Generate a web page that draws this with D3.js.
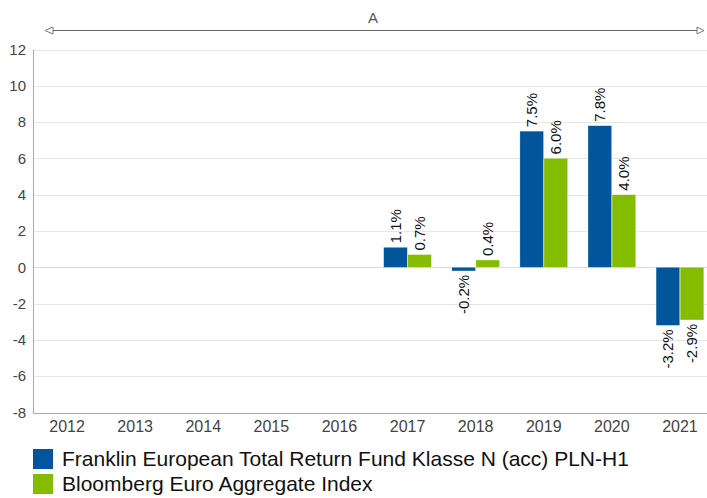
<!DOCTYPE html>
<html>
<head>
<meta charset="utf-8">
<script src="https://cdn.jsdelivr.net/npm/d3@7"></script>
<style>
  body { margin: 0; background: #fff; }
  svg { font-family: "Liberation Sans", Arial, sans-serif; }
</style>
</head>
<body>
<div id="chart"></div>
<script>
const years = ["2012", "2013", "2014", "2015", "2016", "2017", "2018", "2019", "2020", "2021"];
const fundValues = [null, null, null, null, null, 1.1, -0.2, 7.5, 7.8, -3.2];
const indexValues = [null, null, null, null, null, 0.7, 0.4, 6.0, 4.0, -2.9];
const seriesNames = ["Franklin European Total Return Fund Klasse N (acc) PLN-H1", "Bloomberg Euro Aggregate Index"];
const seriesColors = ["#00559b", "#84bd00"];
const yTicks = [-8, -6, -4, -2, 0, 2, 4, 6, 8, 10, 12];

const width = 707, height = 498;
const plotLeft = 33, plotRight = 714, plotTop = 49.5, plotBottom = 412.5;

const svg = d3.select("#chart").append("svg")
    .attr("width", width)
    .attr("height", height);

const x = d3.scaleBand()
    .domain(years)
    .range([plotLeft, plotRight])
    .paddingInner(0.3)
    .paddingOuter(0.15);

const xInner = d3.scaleBand()
    .domain([0, 1])
    .range([0, x.bandwidth()])
    .paddingInner(0.02);

const y = d3.scaleLinear()
    .domain([-8, 12])
    .range([plotBottom, plotTop]);

// gridlines
svg.append("g")
    .selectAll("line")
    .data(yTicks)
    .enter().append("line")
    .attr("x1", plotLeft)
    .attr("x2", width)
    .attr("y1", d => Math.round(y(d)) + 0.5)
    .attr("y2", d => Math.round(y(d)) + 0.5)
    .attr("stroke", d => d === 0 ? "#dcdcdc" : "#e6e6e6");

// y labels
svg.append("g")
    .selectAll("text")
    .data(yTicks)
    .enter().append("text")
    .attr("x", 26)
    .attr("y", d => y(d))
    .attr("dy", "0.35em")
    .attr("text-anchor", "end")
    .attr("font-size", 15)
    .attr("fill", "#444")
    .text(d => d);

// x labels
svg.append("g")
    .selectAll("text")
    .data(years)
    .enter().append("text")
    .attr("x", d => x(d) + x.bandwidth() / 2)
    .attr("y", 432)
    .attr("text-anchor", "middle")
    .attr("font-size", 16)
    .attr("fill", "#444")
    .text(d => d);

// axis lines
svg.append("line")
    .attr("x1", plotLeft + 0.5).attr("x2", plotLeft + 0.5)
    .attr("y1", plotTop).attr("y2", plotBottom + 0.5)
    .attr("stroke", "#aaa");
svg.append("line")
    .attr("x1", plotLeft).attr("x2", width)
    .attr("y1", Math.round(plotBottom) + 0.5).attr("y2", Math.round(plotBottom) + 0.5)
    .attr("stroke", "#aaa");

// bars
const allSeries = [fundValues, indexValues];
allSeries.forEach((values, si) => {
    const rows = years.map((yr, i) => ({ year: yr, value: values[i] })).filter(d => d.value !== null);
    const g = svg.append("g");
    g.selectAll("rect")
        .data(rows)
        .enter().append("rect")
        .attr("x", d => x(d.year) + xInner(si))
        .attr("width", xInner.bandwidth())
        .attr("y", d => y(Math.max(0, d.value)))
        .attr("height", d => Math.abs(y(d.value) - y(0)))
        .attr("fill", seriesColors[si])
        .attr("stroke", "#fff")
        .attr("stroke-opacity", 0.4)
        .attr("stroke-width", 0.6);

    g.selectAll("text")
        .data(rows)
        .enter().append("text")
        .attr("transform", d => {
            const cx = x(d.year) + xInner(si) + xInner.bandwidth() / 2;
            const cy = d.value >= 0 ? y(d.value) - 4 : y(d.value) + 4;
            return `translate(${cx},${cy}) rotate(-90)`;
        })
        .attr("dy", "0.35em")
        .attr("text-anchor", d => d.value >= 0 ? "start" : "end")
        .attr("font-size", 15)
        .attr("fill", "#111")
        .text(d => d.value.toFixed(1) + "%");
});

// top period arrow
const arrowY = 30.5;
svg.append("line")
    .attr("x1", 53).attr("x2", 697)
    .attr("y1", arrowY).attr("y2", arrowY)
    .attr("stroke", "#666");
svg.append("path")
    .attr("d", `M45,${arrowY} L53,${arrowY - 3.5} L53,${arrowY + 3.5} Z`)
    .attr("fill", "#fff").attr("stroke", "#777");
svg.append("path")
    .attr("d", `M704,${arrowY} L697,${arrowY - 3.5} L697,${arrowY + 3.5} Z`)
    .attr("fill", "#fff").attr("stroke", "#777");
svg.append("text")
    .attr("x", 373).attr("y", 23)
    .attr("text-anchor", "middle")
    .attr("font-size", 15)
    .attr("fill", "#555")
    .text("A");

// legend
const legend = svg.append("g");
seriesNames.forEach((name, i) => {
    legend.append("rect")
        .attr("x", 33).attr("y", 449 + i * 25)
        .attr("width", 20).attr("height", 20)
        .attr("fill", seriesColors[i]);
    legend.append("text")
        .attr("x", 62).attr("y", 459 + i * 25)
        .attr("dy", "0.35em")
        .attr("font-size", 21)
        .attr("fill", "#111")
        .text(name);
});
</script>
</body>
</html>
